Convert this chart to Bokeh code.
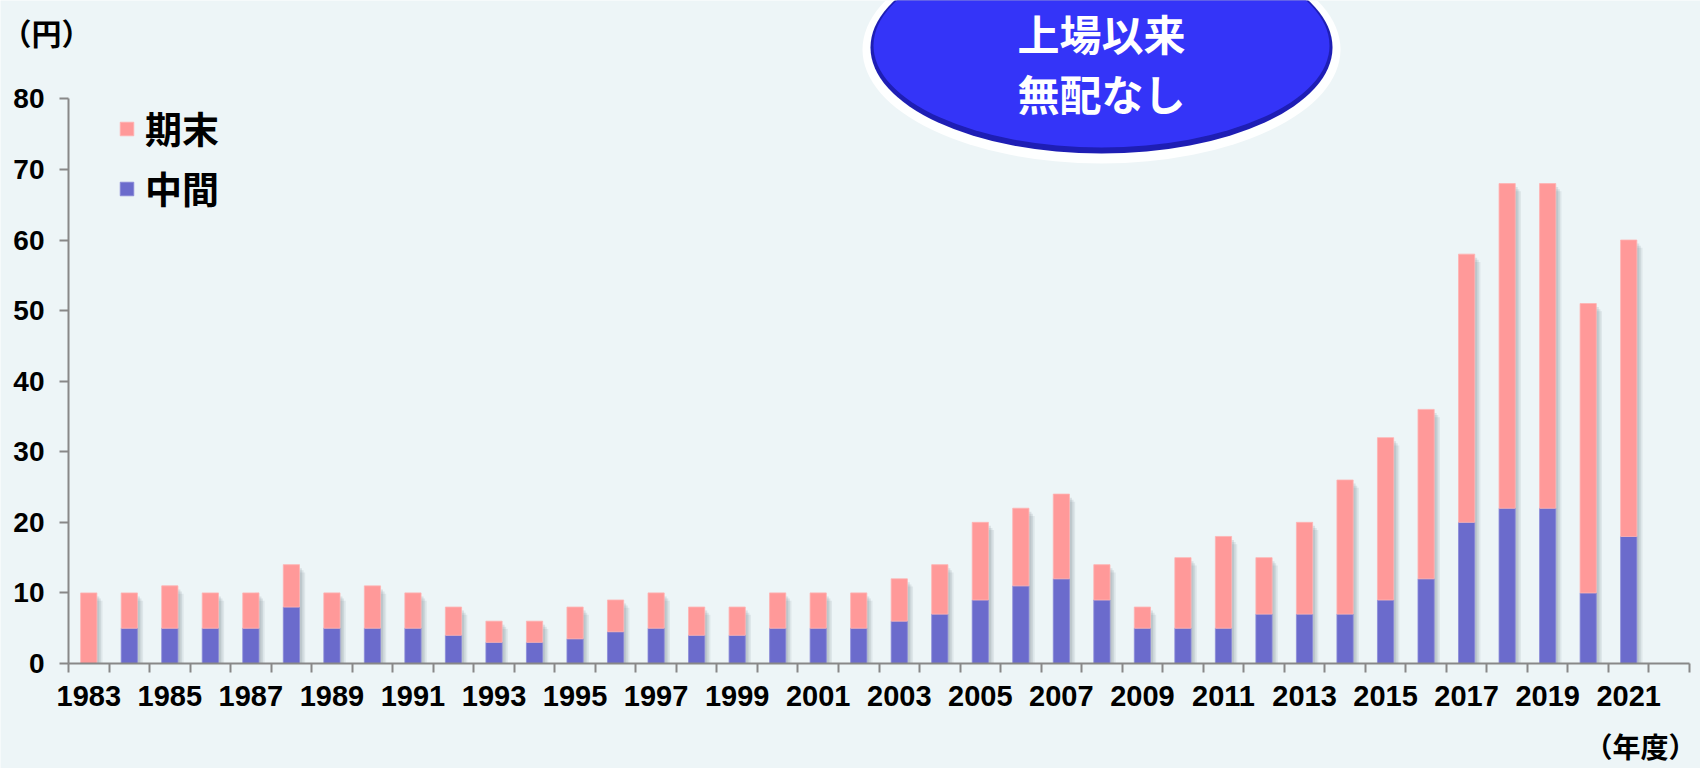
from bokeh.plotting import figure
from bokeh.models import (Range1d, FixedTicker, Legend, LegendItem, Label,
                          ColumnDataSource)
from bokeh.transform import dodge
from bokeh.embed import file_html
from bokeh.resources import INLINE

# ---- data ----
years = list(range(1983, 2022))
interim = [0, 5, 5, 5, 5, 8, 5, 5, 5, 4, 3, 3, 3.5, 4.5, 5, 4, 4, 5, 5, 5,
           6, 7, 9, 11, 12, 9, 5, 5, 5, 7, 7, 7, 9, 12, 20, 22, 22, 10, 18]
year_end = [10, 5, 6, 5, 5, 6, 5, 6, 5, 4, 3, 3, 4.5, 4.5, 5, 4, 4, 5, 5, 5,
            6, 7, 11, 11, 12, 5, 3, 10, 13, 8, 13, 19, 23, 24, 38, 46, 46, 41, 42]
y_ticks = [0, 10, 20, 30, 40, 50, 60, 70, 80]
series_labels = ["中間", "期末"]
unit_label = "（円）"
year_label = "（年度）"
badge_lines = ["上場以来", "無配なし"]

BG = "#EDF5F7"
PINK = "#FF9999"
BLUE = "#6B6BCC"
AXIS = "#888888"
NUM_FONT = "Liberation Sans"
JP_FONT = "Noto Sans CJK JP"

W, H = 1700, 768
X0, Y0 = 68, 663          # screen position of the data origin
PXX = 1621 / 40           # px per slot
PXY = 7.058               # px per yen

n_slots = len(years) + 1
xs = [i + 0.5 for i in range(len(years))]
totals = [a + b for a, b in zip(interim, year_end)]
src = ColumnDataSource(dict(x=xs, interim=interim, year_end=year_end, total=totals))


def sx(px):
    return (px - X0) / PXX


def sy(py):
    return (Y0 - py) / PXY


p = figure(width=W, height=H, x_range=Range1d(sx(0), sx(W)),
           y_range=Range1d(sy(H), sy(0)), output_backend="svg",
           toolbar_location=None, min_border=0, min_border_left=0,
           min_border_right=0, min_border_top=0, min_border_bottom=0,
           background_fill_color=BG, border_fill_color=BG)
p.outline_line_color = None
p.xgrid.visible = False
p.ygrid.visible = False

# ---- shadows (soft, offset down-right) ----
for off, dy, a in [(0.06, 0.5, 0.17), (0.10, 0.8, 0.15), (0.14, 1.1, 0.12)]:
    p.vbar(x=dodge("x", off, range=p.x_range), top=dodge("total", -dy, range=p.y_range),
           bottom=0, width=0.4, source=src, fill_color="#6f7f84",
           fill_alpha=a, line_color=None)

# ---- stacked bars ----
rs = p.vbar_stack(["interim", "year_end"], x="x", width=0.4, source=src,
                  fill_color=[BLUE, PINK], line_color=["#8a8ad8", "#ffb3b3"],
                  line_width=0.8)

# ---- axes ----
xa = p.xaxis[0]
xa.fixed_location = 0
xa.bounds = (0, n_slots)
xa.ticker = FixedTicker(ticks=[x for x, y in zip(xs, years) if y % 2 == 1],
                        minor_ticks=list(range(n_slots + 1)))
xa.major_label_overrides = {x: str(y) for x, y in zip(xs, years) if y % 2 == 1}
xa.major_tick_line_color = None
xa.minor_tick_line_color = AXIS
xa.minor_tick_line_width = 2
xa.minor_tick_out = 9
xa.minor_tick_in = 0
xa.axis_line_color = AXIS
xa.axis_line_width = 2
xa.major_label_text_font = NUM_FONT
xa.major_label_text_font_style = "bold"
xa.major_label_text_font_size = "29px"
xa.major_label_text_color = "black"
xa.major_label_standoff = 13

ya = p.yaxis[0]
ya.fixed_location = 0
ya.ticker = FixedTicker(ticks=y_ticks, minor_ticks=[])
ya.bounds = (0, 80)
ya.major_tick_line_color = AXIS
ya.major_tick_line_width = 2
ya.major_tick_out = 9
ya.major_tick_in = 0
ya.axis_line_color = AXIS
ya.axis_line_width = 2
ya.major_label_text_font = NUM_FONT
ya.major_label_text_font_style = "bold"
ya.major_label_text_font_size = "28px"
ya.major_label_text_color = "black"
ya.major_label_standoff = 15

# ---- legend ----
legend = Legend(items=[LegendItem(label=series_labels[1], renderers=[rs[1]]),
                       LegendItem(label=series_labels[0], renderers=[rs[0]])],
                location=(118, 550), orientation="vertical",
                glyph_width=17, glyph_height=17, label_height=60, spacing=0,
                padding=0, margin=0, label_standoff=10,
                label_text_font=JP_FONT, label_text_font_size="37px",
                label_text_font_style="bold", label_text_color="black",
                background_fill_alpha=0, border_line_color=None)
p.add_layout(legend)

# ---- badge ----
cx, cy = sx(1101), sy(47)
p.ellipse(x=[cx], y=[sy(49)], width=478, height=228,
          width_units="screen", height_units="screen",
          fill_color="white", line_color=None, fill_alpha=0.95)
p.ellipse(x=[cx], y=[cy], width=462, height=212,
          width_units="screen", height_units="screen",
          fill_color="#1E1EB4", line_color=None)
p.ellipse(x=[cx], y=[sy(45)], width=456, height=204,
          width_units="screen", height_units="screen",
          fill_color="#3434F8", line_color=None)

for txt, py in zip(badge_lines, [32, 92]):
    p.add_layout(Label(x=cx, y=sy(py), text=txt,
                       text_align="center", text_baseline="middle",
                       text_color="white", text_font=JP_FONT,
                       text_font_size="42px", text_font_style="bold"))

# ---- unit labels ----
p.add_layout(Label(x=sx(1), y=sy(31), text=unit_label, text_align="left",
                   text_baseline="middle", text_color="black",
                   text_font=JP_FONT, text_font_size="30px",
                   text_font_style="bold"))
p.add_layout(Label(x=sx(1696), y=sy(745), text=year_label, text_align="right",
                   text_baseline="middle", text_color="black",
                   text_font=JP_FONT, text_font_size="28px",
                   text_font_style="bold"))

open("out.html", "w").write(file_html(p, INLINE))
